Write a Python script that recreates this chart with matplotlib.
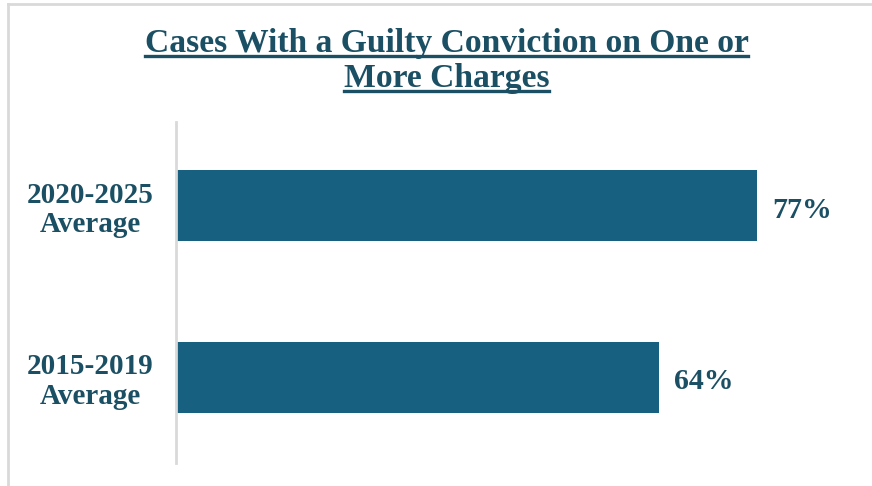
import matplotlib
matplotlib.use("Agg")
import matplotlib.pyplot as plt
from matplotlib.lines import Line2D

categories = ["2015-2019\nAverage", "2020-2025\nAverage"]
values = [64, 77]
value_labels = ["64%", "77%"]
title_lines = ["Cases With a Guilty Conviction on One or", "More Charges"]

W, H = 872, 486
fig = plt.figure(figsize=(W / 100, H / 100), dpi=100)
plt.rcParams['font.family'] = ['Liberation Serif', 'DejaVu Serif']

bar_color = "#17607F"
text_color = "#1B4F63"
grid_gray = "#D9D9D9"

def fx(px): return px / W
def fy(py): return 1 - py / H

# frame lines (left and top)
fig.add_artist(Line2D([fx(8), fx(8)], [fy(4), fy(486)], color=grid_gray, lw=2))
fig.add_artist(Line2D([fx(8), fx(872)], [fy(4), fy(4)], color=grid_gray, lw=2))

ax_left, ax_right = 176, 866
ax_top, ax_bot = 122, 463
ax = fig.add_axes([fx(ax_left), fy(ax_bot), (ax_right - ax_left) / W, (ax_bot - ax_top) / H])
scale = 7.546
ax.set_xlim(0, (ax_right - ax_left) / scale)
ax.set_ylim(-0.5, 1.49)

ypos = list(range(len(categories)))
bars = ax.barh(ypos, values, height=0.414, color=bar_color)
for y, v, lab in zip(ypos, values, value_labels):
    ax.text(v + 2, y - 0.025, lab, va="center", ha="left", fontsize=21.5,
            fontweight="bold", color=text_color)

ax.set_yticks(ypos)
ax.set_yticklabels(categories, fontsize=21, fontweight="bold", color=text_color,
                   linespacing=1.12, ha="center")
ax.tick_params(axis="y", length=0, pad=62)
ax.set_xticks([])
for s in ["top", "right", "bottom"]:
    ax.spines[s].set_visible(False)
ax.spines["left"].set_color(grid_gray)
ax.spines["left"].set_linewidth(2)

# title with underlines
renderer = fig.canvas.get_renderer()
baselines = [52, 87]
for line, base in zip(title_lines, baselines):
    t = fig.text(fx(446.5), fy(base), line, ha="center", va="baseline", fontsize=24.2,
                 fontweight="bold", color=text_color)
    bb = t.get_window_extent(renderer=renderer)
    uy = fy(base + 4)
    fig.add_artist(Line2D([bb.x0 / W, bb.x1 / W], [uy, uy], color=text_color, lw=2.4))

fig.savefig("out.png", dpi=100)
